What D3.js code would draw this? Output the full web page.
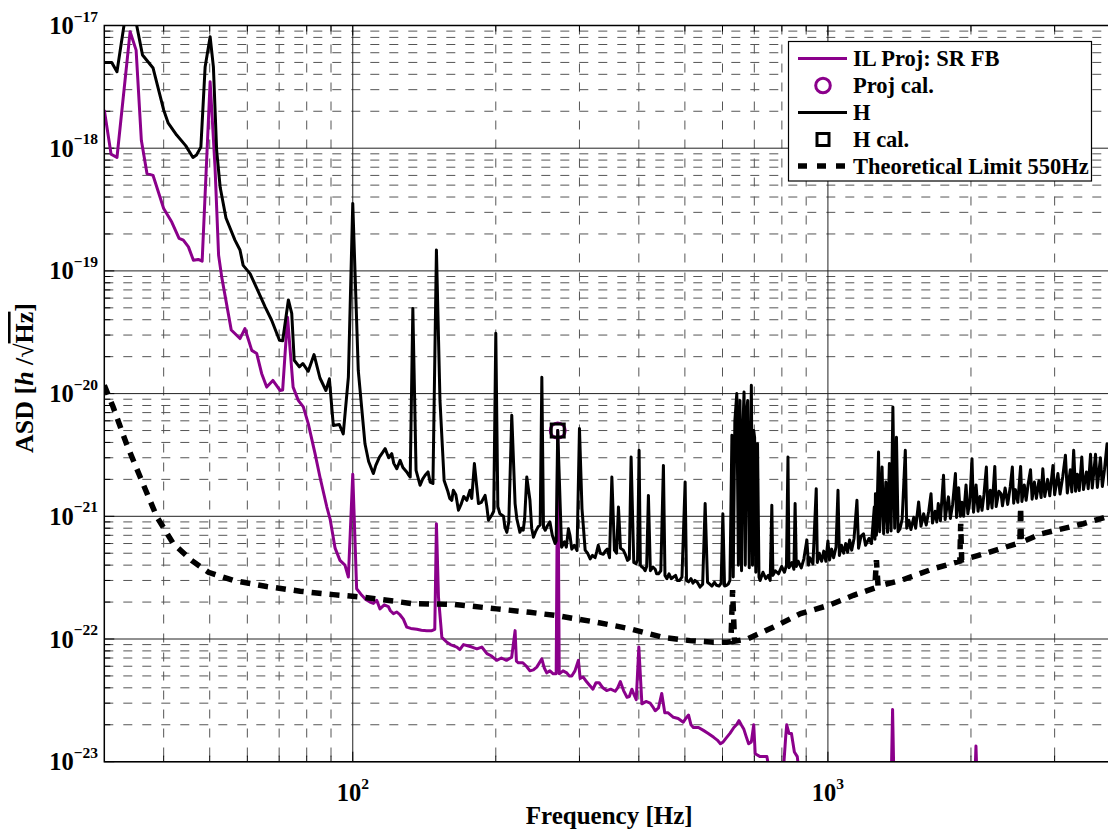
<!DOCTYPE html>
<html><head><meta charset="utf-8">
<script src="https://cdn.jsdelivr.net/npm/d3@7"></script>
<style>
body{margin:0;background:#fff}
svg{display:block}
text{font-family:"Liberation Serif","Times New Roman",Times,serif;font-weight:bold;fill:#000}
</style>
</head><body>
<svg id="chart" width="1108" height="832"></svg>
<script>
// ---------------- data ----------------
const xTickValues = [100, 1000];
const yTickExps = [-23, -22, -21, -20, -19, -18, -17];
const legendLabels = ["IL Proj: SR FB", "Proj cal.", "H", "H cal.", "Theoretical Limit 550Hz"];
const xAxisLabel = "Frequency [Hz]";

// IL Proj: SR FB  [Hz, ASD]
const projSeries = [
[30,2.05e-18],[31.0,8.95e-19],[31.9,8.4e-19],[34.0,8.9e-18],[35.0,6.3e-18],[35.9,1.16e-18],[36.9,6.2e-19],
[38.0,6.0e-19],[40.0,3.23e-19],[41.6,2.5e-19],[43.1,1.84e-19],[44.0,1.78e-19],[45.1,1.57e-19],[46.2,1.22e-19],
[47.3,1.24e-19],[48.2,1.2e-19],[50.1,3.48e-18],[51.3,7.05e-19],[52.2,1.34e-19],[53.0,8.9e-20],[55.5,3.3e-20],
[57.9,2.81e-20],[59.3,3.39e-20],[61.3,2.25e-20],[62.8,2.12e-20],[64.3,1.46e-20],[65.9,1.13e-20],[67.9,1.28e-20],
[70.3,1.06e-20],[71.2,1.07e-20],[72.9,4.2e-20],[74.9,1.13e-20],[76.8,8.8e-21],[78.7,7.8e-21],[80.6,5.7e-21],
[83.3,3.24e-21],[85.3,2.09e-21],[88.2,1.19e-21],[89.6,9.5e-22],[91.8,5.5e-22],[94,4.37e-22],[96.3,4.0e-22],
[97.9,3.2e-22],[100,2.2e-21],[101.9,2.57e-22],[104.5,2.27e-22],[106.5,2.1e-22],[108.7,2.0e-22],[110.5,1.95e-22],
[112.3,2.07e-22],[114.1,1.76e-22],[116.5,1.9e-22],[118.8,1.84e-22],[120,1.7e-22],[121.8,1.61e-22],[123.8,1.66e-22],
[125.8,1.57e-22],[127.8,1.45e-22],[129.9,1.25e-22],[132.5,1.22e-22],[136.4,1.2e-22],[139.5,1.18e-22],[143.2,1.17e-22],
[146.7,1.17e-22],[148.8,1.2e-22],[150,8.7e-22],[151.5,2.19e-22],[154,1.03e-22],[157.8,9.4e-23],[160.5,9.0e-23],
[165.6,8.6e-23],[168,8.2e-23],[171.0,9.0e-23],[174.5,8.8e-23],[178.1,8.6e-23],[182.5,8.3e-23],[186.9,8.6e-23],
[191.6,7.6e-23],[195.5,7.3e-23],[200.9,6.7e-23],[205.5,7.0e-23],[210.6,6.7e-23],[216,7.1e-23],[219.6,1.17e-22],
[221,6.6e-23],[223.1,6.4e-23],[228,6.4e-23],[232,6.0e-23],[236,5.5e-23],[240,5.6e-23],[243.9,5.9e-23],
[246.5,6.3e-23],[250,6.9e-23],[253,5.8e-23],[256,5.3e-23],[260,5.5e-23],[264.2,5.2e-23],[268,5.2e-23],
[270,5.0e-21],[272,5.2e-23],[277,5.5e-23],[282.1,5.3e-23],[285.5,5.0e-23],[289,5.0e-23],[293.5,5.5e-23],
[298.5,6.7e-23],[301,4.77e-23],[305.5,4.9e-23],[310.3,4.5e-23],[315,4.2e-23],[320.3,3.9e-23],[325,4.4e-23],
[330,4.4e-23],[336,4.0e-23],[342.2,3.8e-23],[349,3.9e-23],[356.6,3.75e-23],[361,4.0e-23],[365.7,4.5e-23],
[371.5,3.8e-23],[377.7,3.35e-23],[382,3.4e-23],[386.7,3.9e-23],[391,3.5e-23],[395,3.2e-23],[400,8.6e-23],
[406,2.96e-23],[414,3.1e-23],[422.6,3.0e-23],[428,2.8e-23],[433,2.6e-23],[440,2.75e-23],[447,3.6e-23],
[453.6,2.5e-23],[461,2.5e-23],[473,2.3e-23],[484,2.25e-23],[496.2,2.1e-23],[502,2.25e-23],[509,2.4e-23],
[515,2.0e-23],[521,1.9e-23],[534,1.9e-23],[547,1.8e-23],[560,1.7e-23],[575,1.58e-23],[585,1.5e-23],
[594,1.4e-23],[602,1.45e-23],[610,1.55e-23],[622,1.7e-23],[634,1.9e-23],[642,2.0e-23],[650,2.16e-23],
[657,2.0e-23],[665,1.85e-23],[673,1.6e-23],[681,1.4e-23],[690,1.45e-23],[698,2.0e-23],[703,1.16e-23],
[720,1.1e-23],[744,1.1e-23],[755,8e-24],[805,8e-24],[815,1.6e-23],[819,2.0e-23],[828,1.7e-23],[838,1.7e-23],
[850,1.2e-23],[862,1.1e-23],[870,8e-24],[1360,8e-24],[1368,2.66e-23],[1376,8e-24],[2040,8e-24],[2049,1.34e-23],
[2058,8e-24],[4000,8e-24]
];

// H  [Hz, ASD]
const hSeries = [
[30,5.0e-18],[31.1,5.0e-18],[31.9,4.2e-18],[33.0,1.0e-17],[34.3,1.6e-17],[35.1,1.0e-17],[36.1,5.75e-18],
[38.0,4.5e-18],[40.0,2.05e-18],[40.9,1.6e-18],[42.6,1.28e-18],[44.5,1.05e-18],[46.1,8.4e-19],[46.9,8.8e-19],
[47.9,1.02e-18],[48.9,4.6e-18],[50.1,8.1e-18],[50.9,4.6e-18],[51.7,9.7e-19],[52.6,4.8e-19],[54.1,2.7e-19],
[56.5,1.78e-19],[57.9,1.48e-19],[58.8,1.11e-19],[60.8,9.5e-20],[63.3,6.75e-20],[65.4,5.1e-20],[67.5,3.96e-20],
[70.1,2.72e-20],[71.2,2.7e-20],[73.2,5.8e-20],[74.4,4.5e-20],[75.3,1.87e-20],[77.2,1.65e-20],[78.5,1.76e-20],
[80.6,1.52e-20],[82.9,2.08e-20],[85.3,1.34e-20],[87.8,1.06e-20],[89.3,1.32e-20],[91.0,5.5e-21],[93.7,5.6e-21],
[95.5,4.7e-21],[97.9,1.36e-20],[100,3.55e-19],[102.7,1.55e-20],[106.1,3.9e-21],[108,2.8e-21],[110.5,2.23e-21],
[111.8,2.6e-21],[113.8,3.04e-21],[115.5,3.3e-21],[117,3.56e-21],[119,3.0e-21],[120.8,3.24e-21],[122,2.7e-21],
[123.8,2.44e-21],[125.8,2.86e-21],[127.5,2.5e-21],[129.9,2.3e-21],[130.8,2.2e-21],[132.1,2.09e-21],[133.8,4.93e-20],
[135.9,2.37e-21],[138.6,1.79e-21],[140.2,2.0e-21],[142,2.16e-21],[144,2.3e-21],[145.5,1.9e-21],[147.5,1.85e-21],
[150,1.48e-19],[152.6,8.8e-21],[155.7,1.96e-21],[158.5,1.6e-21],[160,1.4e-21],[161.6,1.35e-21],[162.8,1.63e-21],
[164.8,1.5e-21],[166.9,1.12e-21],[169,1.25e-21],[171.2,1.45e-21],[173.8,1.35e-21],[176.5,1.63e-21],[178,1.4e-21],
[180.3,2.69e-21],[183.9,1.27e-21],[186.5,1.3e-21],[189.9,1.48e-21],[191.5,1.2e-21],[193,9.3e-22],[196.1,1.02e-21],
[198,1.1e-21],[200,3.1e-20],[202,1.2e-21],[204,1.05e-21],[207.6,1.0e-21],[209,8.2e-22],[211,7.4e-22],[213,9.0e-22],
[216.1,6.65e-21],[219.6,1.27e-21],[221.5,9.5e-22],[224.8,7.4e-22],[226.5,8.0e-22],[228.4,7.7e-22],[230,9.5e-22],
[232.4,2.09e-21],[236,1.35e-21],[238,8.0e-22],[240,6.76e-22],[242.5,7.5e-22],[245.5,8.2e-22],[248,8.5e-22],
[250,1.36e-20],[252,8.2e-22],[254.1,7.7e-22],[256.5,8.3e-22],[260,9.0e-22],[263,7.0e-22],[266.6,6.0e-22],[268,6.3e-22],
[270,5.0e-21],[275.1,5.6e-22],[279,6.2e-22],[281.5,5.6e-22],[284.4,7.9e-22],[286.5,7.0e-22],[289,5.4e-22],
[292.5,5.8e-22],[296.5,5.27e-22],[300,5.2e-21],[303.7,1.15e-21],[308.4,5.3e-22],[312,5.0e-22],[316,4.5e-22],
[319.5,4.8e-22],[323.6,4.6e-22],[326,5.1e-22],[328.6,5.8e-22],[332,5.0e-22],[336.8,4.9e-22],[340,5.2e-22],
[343.3,5.4e-22],[347,4.6e-22],[351,2.09e-21],[355.4,5.3e-22],[359,5.0e-22],[362.4,1.19e-21],[366,5.5e-22],
[371,5.3e-22],[374.5,4.9e-22],[378.7,4.37e-22],[382,4.5e-22],[385.3,3.04e-21],[390.3,4.2e-22],[394.6,4.1e-22],
[397.5,4.4e-22],[400.5,3.45e-21],[403,4.0e-22],[406,3.86e-22],[409,3.8e-22],[412.4,3.6e-22],[415.5,3.9e-22],
[419,1.48e-21],[423,3.6e-22],[428.3,3.86e-22],[433,3.7e-22],[436,3.4e-22],[440,3.4e-22],[445,3.6e-22],
[450.6,2.6e-21],[454,3.3e-22],[458.3,3.1e-22],[463,3.4e-22],[468,3.1e-22],[473,3.2e-22],[478,3.3e-22],[482,3.0e-22],
[487.5,3.0e-22],[493,3.2e-22],[500.6,1.9e-21],[504,3.0e-22],[509,2.92e-22],[515,3.1e-22],[520,2.85e-22],[525,3.0e-22],
[531,2.9e-22],[538,2.65e-22],[545,2.8e-22],[551.6,1.27e-21],[558,2.9e-22],[564,2.8e-22],[570,2.7e-22],[577,2.9e-22],
[583,2.74e-22],[590,2.7e-22],[596,2.85e-22],[601,1.05e-21],[606,2.7e-22],[612,2.74e-22],[617,2.8e-22],
[622,3.0e-22],[628,4.57e-21],[632,3.2e-22],[637,6.0e-21],[643,1.0e-20],[648,4.0e-22],[653,8.8e-21],[658,3.6e-22],
[662,5.0e-21],[666,1.03e-20],[670,4.0e-22],[674,7.0e-21],[678,8.8e-21],[683,3.8e-22],[690,1.17e-20],[694,4.0e-22],
[698,5.0e-21],[701,4.4e-21],[705,3.5e-22],[711,3.9e-21],[716,3.2e-22],
[720,3.0e-22],[730,3.5e-22],[740,3.1e-22],[749,3.3e-22],[756,3.0e-22],[762,1.23e-21],[766,3.3e-22],[775,3.6e-22],
[787,3.4e-22],[799,3.9e-22],[810,3.5e-22],[818,4.0e-22],[824,3.04e-21],[828,3.8e-22],[840,4.2e-22],[848,3.7e-22],
[853,1.27e-21],[858,3.9e-22],[866,4.3e-22],[879,3.8e-22],[890,4.5e-22],[903,6.4e-22],[910,4.0e-22],[916,4.6e-22],
[930,4.1e-22],[945,1.68e-21],[950,4.2e-22],[959,5.0e-22],[970,4.3e-22],[980,5.2e-22],[990,4.3e-22],[1000,6.3e-22],
[1008,4.4e-22],[1018,5.4e-22],[1028,4.6e-22],[1040,5.6e-22],[1050,1.63e-21],[1057,4.8e-22],[1068,5.8e-22],[1079,5.0e-22],
[1090,6.0e-22],[1100,5.1e-22],[1111,6.4e-22],[1122,5.3e-22],[1135,6.6e-22],[1151,1.35e-21],[1160,5.5e-22],[1174,6.9e-22],
[1188,7.2e-22],[1200,5.8e-22],[1220,6.6e-22],[1235,6.0e-22],[1252,1.19e-21],[1256,6.5e-22],[1259,1.53e-21],[1265,7.0e-22],
[1278,3.34e-21],[1285,7.5e-22],[1300,2.52e-21],[1310,7.2e-22],[1324,1.9e-21],[1335,7.4e-22],[1347,2.69e-21],[1358,7.6e-22],
[1370,7.76e-21],[1382,8.0e-22],[1394,4.4e-21],[1405,7.5e-22],[1418,7.9e-22],[1433,9.5e-22],[1455,3.45e-21],[1465,8.0e-22],
[1480,9.3e-22],[1495,7.8e-22],[1516,9.8e-22],[1530,8.0e-22],[1552,1.31e-21],[1570,8.3e-22],[1590,1.05e-21],[1610,8.5e-22],
[1630,1.1e-21],[1648,1.53e-21],[1660,8.8e-22],[1681,1.1e-21],[1695,9.0e-22],[1707,1.27e-21],[1725,9.2e-22],[1751,2.16e-21],
[1765,9.4e-22],[1780,1.2e-21],[1793,1.44e-21],[1810,9.6e-22],[1830,1.25e-21],[1855,2.23e-21],[1865,9.8e-22],[1884,1.71e-21],
[1900,1.0e-21],[1915,1.3e-21],[1930,1.0e-21],[1953,1.8e-21],[1970,1.05e-21],[1990,1.35e-21],[2010,2.95e-21],[2025,1.08e-21],
[2050,1.8e-21],[2070,1.1e-21],[2090,1.45e-21],[2110,1.12e-21],[2130,1.5e-21],[2155,2.52e-21],[2170,1.15e-21],[2197,1.63e-21],
[2215,1.17e-21],[2245,2.55e-21],[2260,1.2e-21],[2290,1.6e-21],[2314,1.53e-21],[2330,1.22e-21],[2360,1.7e-21],[2390,1.25e-21],
[2420,1.75e-21],[2444,2.52e-21],[2460,1.28e-21],[2480,1.65e-21],[2510,1.3e-21],[2544,2.55e-21],[2560,1.32e-21],[2590,1.8e-21],
[2613,1.35e-21],[2640,1.85e-21],[2669,2.4e-21],[2690,1.38e-21],[2720,1.9e-21],[2746,1.4e-21],[2780,1.95e-21],[2810,1.42e-21],
[2833,2.44e-21],[2860,1.45e-21],[2900,2.0e-21],[2930,1.47e-21],[2976,2.6e-21],[3000,1.5e-21],[3048,2.23e-21],[3080,1.52e-21],
[3120,2.1e-21],[3161,3.15e-21],[3190,1.55e-21],[3237,2.4e-21],[3260,1.58e-21],[3290,3.45e-21],[3320,1.6e-21],[3350,2.2e-21],
[3380,1.62e-21],[3422,3.04e-21],[3450,1.65e-21],[3500,2.3e-21],[3530,1.68e-21],[3570,3.2e-21],[3600,1.7e-21],[3657,3.2e-21],
[3690,1.72e-21],[3745,3.0e-21],[3780,1.75e-21],[3820,2.4e-21],[3867,3.9e-21],[3900,1.8e-21],[3950,2.6e-21],[4000,1.85e-21]
];

// Theoretical Limit 550Hz  [Hz, ASD]
const limitSeries = [
[30,1.17e-20],[31.3,7.8e-21],[33.4,3.9e-21],[35.7,2.09e-21],[38.7,9.9e-22],[41.9,6.0e-22],[45.8,4.37e-22],
[49.7,3.5e-22],[56.1,3.0e-22],[65.9,2.68e-22],[77.5,2.45e-22],[91,2.3e-22],[105.3,2.19e-22],[111.4,2.13e-22],
[134,1.94e-22],[162.8,1.92e-22],[200.9,1.76e-22],[236,1.65e-22],[268.8,1.55e-22],[326,1.37e-22],[383.8,1.21e-22],
[450.6,1.03e-22],[512.8,9.7e-23],[575,9.4e-23],[613,9.4e-23],[625,9.5e-23],[630,2.5e-22],[636,9.6e-23],[676,1.0e-22],
[768.8,1.25e-22],[876,1.61e-22],[1003,1.88e-22],[1132,2.27e-22],[1255,2.6e-22],[1265,4.4e-22],[1275,2.7e-22],
[1423,3.0e-22],[1667,3.74e-22],[1895,4.3e-22],[1903,8.7e-22],[1912,4.4e-22],[2133,4.95e-22],[2500,6.0e-22],
[2535,6.1e-22],[2544,1.19e-21],[2553,6.15e-22],[2812,7.2e-22],[3446,8.7e-22],[3866,9.9e-22],[4000,1.03e-21]
];

// calibration line markers [Hz, ASD]
const projCal = [[270, 5.0e-21]];
const hCal = [[270, 5.0e-21]];

// ---------------- drawing ----------------
const purple = "#8b008b";
const svg = d3.select("#chart");
svg.append("rect").attr("width",1108).attr("height",832).attr("fill","#fff");

const P = {l:104.3, t:25.5, r:1114, b:761.7};
const x = d3.scaleLog().domain([30,4000]).range([P.l,P.r]);
const y = d3.scaleLog().domain([1e-23,1e-17]).range([P.b,P.t]);

const xMinor = [], xMajor = [];
[10,100,1000].forEach(d => { for (let k=1;k<=9;k++){ const v=k*d; if (v>30 && v<4000){ (k===1?xMajor:xMinor).push(v);} } });
xMinor.push(4000);
const yMinor = [], yMajor = [];
yTickExps.forEach(e => { const d=Math.pow(10,e); yMajor.push(d); if (e<-17) for (let k=2;k<=9;k++) yMinor.push(k*d); });

const grid = svg.append("g");
grid.selectAll(".gxm").data(xMinor).enter().append("line")
  .attr("x1",d=>x(d)).attr("x2",d=>x(d)).attr("y1",P.t).attr("y2",P.b)
  .attr("stroke","#555").attr("stroke-width",1).attr("stroke-dasharray","9,10");
grid.selectAll(".gym").data(yMinor).enter().append("line")
  .attr("x1",P.l).attr("x2",P.r).attr("y1",d=>y(d)).attr("y2",d=>y(d))
  .attr("stroke","#555").attr("stroke-width",1).attr("stroke-dasharray","9,10");
grid.selectAll(".gxM").data(xMajor).enter().append("line")
  .attr("x1",d=>x(d)).attr("x2",d=>x(d)).attr("y1",P.t).attr("y2",P.b)
  .attr("stroke","#222").attr("stroke-width",1);
grid.selectAll(".gyM").data(yMajor).enter().append("line")
  .attr("x1",P.l).attr("x2",P.r).attr("y1",d=>y(d)).attr("y2",d=>y(d))
  .attr("stroke","#222").attr("stroke-width",1);

const tk = svg.append("g").attr("stroke","#000").attr("stroke-width",1);
xMinor.concat(xMajor).forEach(v => {
  const L = xMajor.includes(v)?10:6;
  tk.append("line").attr("x1",x(v)).attr("x2",x(v)).attr("y1",P.b).attr("y2",P.b-L);
  tk.append("line").attr("x1",x(v)).attr("x2",x(v)).attr("y1",P.t).attr("y2",P.t+L);
});
yMinor.concat(yMajor).forEach(v => {
  const L = yMajor.includes(v)?10:6;
  tk.append("line").attr("x1",P.l).attr("x2",P.l+L).attr("y1",y(v)).attr("y2",y(v));
});

svg.append("clipPath").attr("id","clip").append("rect")
  .attr("x",P.l).attr("y",P.t).attr("width",P.r-P.l).attr("height",P.b-P.t);

const line = d3.line().x(d=>x(d[0])).y(d=>y(d[1]));
const plot = svg.append("g").attr("clip-path","url(#clip)");
const LW = 3;

plot.append("path").datum(projSeries).attr("d",line).attr("fill","none")
  .attr("stroke",purple).attr("stroke-width",LW).attr("stroke-linejoin","round");
plot.selectAll(".pc").data(projCal).enter().append("circle")
  .attr("cx",d=>x(d[0])).attr("cy",d=>y(d[1])).attr("r",7.5)
  .attr("fill","none").attr("stroke",purple).attr("stroke-width",LW);
plot.append("path").datum(hSeries).attr("d",line).attr("fill","none")
  .attr("stroke","#000").attr("stroke-width",LW).attr("stroke-linejoin","round");
plot.selectAll(".hc").data(hCal).enter().append("rect")
  .attr("x",d=>x(d[0])-6.5).attr("y",d=>y(d[1])-6.5).attr("width",13).attr("height",13)
  .attr("fill","none").attr("stroke","#000").attr("stroke-width",LW);
plot.append("path").datum(limitSeries).attr("d",line).attr("fill","none")
  .attr("stroke","#000").attr("stroke-width",5.5).attr("stroke-dasharray","10,8");

svg.append("path").attr("d",`M${P.r},${P.t}H${P.l}V${P.b}H${P.r}`)
  .attr("fill","none").attr("stroke","#000").attr("stroke-width",1.5);

const yl = svg.append("g");
yTickExps.forEach(e => {
  const t = yl.append("text").attr("x",98).attr("y",y(Math.pow(10,e))+8.5)
    .attr("text-anchor","end").attr("font-size",24.5);
  t.append("tspan").text("10");
  t.append("tspan").attr("dy",-12.5).attr("font-size",15.5).text("\u2212"+Math.abs(e));
});
xTickValues.forEach(v => {
  const t = svg.append("text").attr("x",x(v)).attr("y",801)
    .attr("text-anchor","middle").attr("font-size",24.5);
  t.append("tspan").text("10");
  t.append("tspan").attr("dy",-12.5).attr("font-size",15.5).text(String(Math.round(Math.log10(v))));
});

svg.append("text").attr("x",(P.l+P.r)/2).attr("y",824).attr("text-anchor","middle")
  .attr("font-size",25).text(xAxisLabel);
const yt = svg.append("text").attr("transform","translate(33,378) rotate(-90)")
  .attr("text-anchor","middle").attr("font-size",26);
yt.append("tspan").text("ASD [");
yt.append("tspan").attr("font-style","italic").text("h");
yt.append("tspan").text(" /\u221A");
yt.append("tspan").attr("text-decoration","overline").text("Hz");
yt.append("tspan").text("]");

const lg = svg.append("g");
lg.append("rect").attr("x",788.5).attr("y",41.5).attr("width",303).attr("height",139.5)
  .attr("fill","#fff").attr("stroke","#000").attr("stroke-width",1.2);
const rowY = [58.5,85.5,112.5,139.5,166];
lg.selectAll(".lt").data(legendLabels).enter().append("text")
  .attr("x",853).attr("y",(d,i)=>rowY[i]+7.5).attr("font-size",22.5).text(d=>d);
lg.append("line").attr("x1",798).attr("x2",847).attr("y1",rowY[0]).attr("y2",rowY[0])
  .attr("stroke",purple).attr("stroke-width",LW);
lg.append("circle").attr("cx",823).attr("cy",rowY[1]).attr("r",7.3)
  .attr("fill","none").attr("stroke",purple).attr("stroke-width",LW);
lg.append("line").attr("x1",798).attr("x2",847).attr("y1",rowY[2]).attr("y2",rowY[2])
  .attr("stroke","#000").attr("stroke-width",LW);
lg.append("rect").attr("x",817).attr("y",rowY[3]-6).attr("width",12).attr("height",12)
  .attr("fill","none").attr("stroke","#000").attr("stroke-width",LW);
lg.append("line").attr("x1",798).attr("x2",847).attr("y1",rowY[4]).attr("y2",rowY[4])
  .attr("stroke","#000").attr("stroke-width",5.5).attr("stroke-dasharray","9,10");
</script>
</body></html>
